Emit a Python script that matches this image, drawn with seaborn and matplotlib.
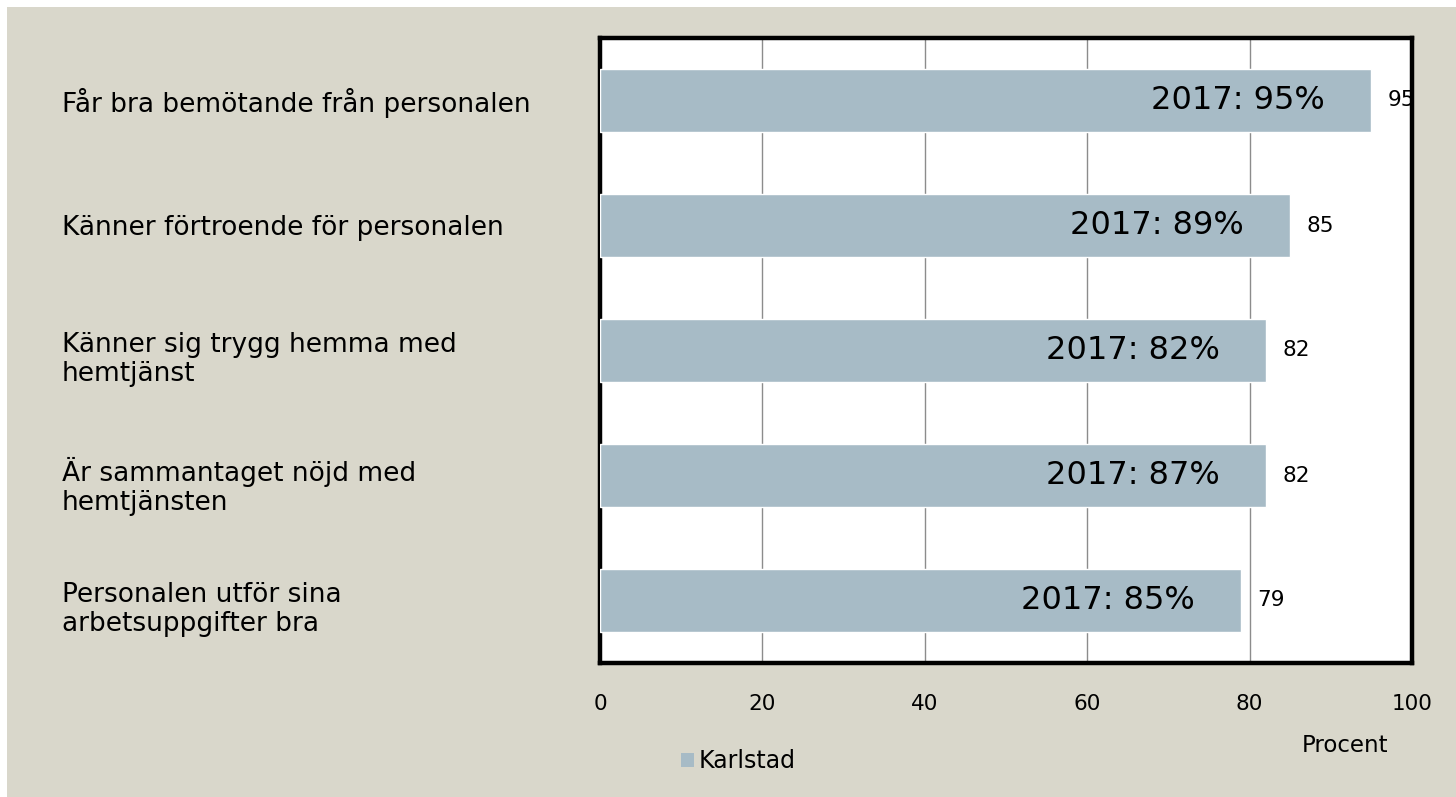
import matplotlib
matplotlib.use("Agg")
import matplotlib.pyplot as plt
import matplotlib.transforms as mtransforms
from matplotlib.patches import Rectangle, Patch
import seaborn as sns
import pandas as pd

categories = [
    "Får bra bemötande från personalen",
    "Känner förtroende för personalen",
    "Känner sig trygg hemma med\nhemtjänst",
    "Är sammantaget nöjd med\nhemtjänsten",
    "Personalen utför sina\narbetsuppgifter bra",
]
values = [95, 85, 82, 82, 79]
labels_2017 = ["2017: 95%", "2017: 89%", "2017: 82%", "2017: 87%", "2017: 85%"]
xticks = [0, 20, 40, 60, 80, 100]
series_name = "Karlstad"

bar_color = "#A7BBC6"
bg = "#D9D7CB"

sns.set_style("white")
plt.rcParams["font.family"] = ["DejaVu Sans"]
plt.rcParams["text.color"] = "black"
plt.rcParams["xtick.color"] = "black"

W, H = 1456, 797
fig = plt.figure(figsize=(W / 100, H / 100), dpi=100, facecolor="white")
fig.patches.append(Rectangle((7 / W, 0), 1 - 7 / W, 1 - 7 / H, transform=fig.transFigure,
                             facecolor=bg, edgecolor="none", zorder=-10))

ax = fig.add_axes([600 / W, 1 - 663 / H, (1412 - 600) / W, (663 - 38) / H])
ax.set_facecolor("white")

df = pd.DataFrame({"cat": categories, "val": values})
sns.barplot(data=df, x="val", y="cat", orient="h", color=bar_color, width=0.5,
            saturation=1, ax=ax, zorder=3)

ax.set_xlim(0, 100)
ax.set_ylim(4.5, -0.5)
ax.set_xticks(xticks)
ax.set_xticklabels([str(t) for t in xticks], fontsize=15.5, color="black")
ax.tick_params(axis="x", length=0, pad=22)
ax.set_yticks([])
ax.set_xlabel("")
ax.set_ylabel("")
ax.grid(axis="x", color="#8C8C8C", linewidth=1, zorder=0)
ax.set_axisbelow(True)
for s in ax.spines.values():
    s.set_linewidth(3.2)
    s.set_color("black")
    s.set_visible(True)

for i, (v, lab) in enumerate(zip(values, labels_2017)):
    ax.text(v + 2, i, str(v), va="center", ha="left", fontsize=15.5, zorder=5, color="black")
    ax.text(v - 5.7, i, lab, va="center", ha="right", fontsize=23, zorder=5, color="black")

trans = mtransforms.blended_transform_factory(fig.transFigure, ax.transData)
for i, c in enumerate(categories):
    if "\n" in c:
        ax.text(62 / W, i - 0.15, c, transform=trans, ha="left", va="top",
                fontsize=19, linespacing=1.15, color="black")
    else:
        ax.text(62 / W, i + 0.02, c, transform=trans, ha="left", va="center",
                fontsize=19, color="black")

fig.text(1345 / W, 1 - 745 / H, "Procent", ha="center", va="center", fontsize=16.5, color="black")

leg = fig.legend(handles=[Patch(facecolor=bar_color, edgecolor="none", label=series_name)],
                 loc="center left", bbox_to_anchor=(660 / W, 1 - 761 / H), frameon=False,
                 fontsize=17, handlelength=0.55, handleheight=0.55, handletextpad=0.2,
                 labelcolor="black")

fig.savefig("out.png", dpi=100, facecolor=fig.get_facecolor())
